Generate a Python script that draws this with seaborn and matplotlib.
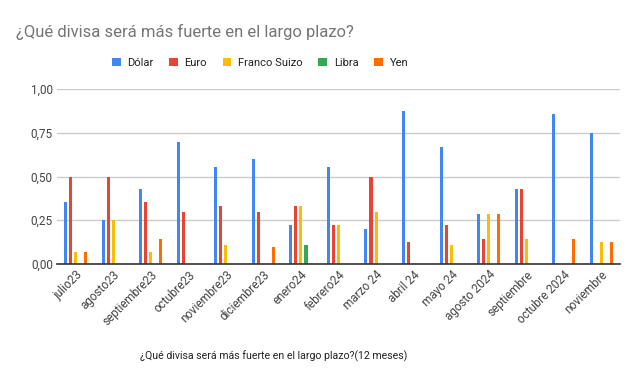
import matplotlib
matplotlib.use("Agg")
import matplotlib.pyplot as plt
import seaborn as sns
import pandas as pd
from matplotlib.ticker import FuncFormatter

meses = ["julio23", "agosto23", "septiembre23", "octubre23", "noviembre23",
         "diciembre23", "enero24", "febrero24", "marzo 24", "abril 24",
         "mayo 24", "agosto 2024", "septiembre", "octubre 2024", "noviembre"]

dolar = [0.357, 0.25, 0.429, 0.70, 0.556, 0.60, 0.222, 0.556, 0.20, 0.875,
         0.667, 0.286, 0.429, 0.857, 0.75]
euro = [0.50, 0.50, 0.357, 0.30, 0.333, 0.30, 0.333, 0.222, 0.50, 0.125,
        0.222, 0.143, 0.429, 0.0, 0.0]
franco = [0.071, 0.25, 0.071, 0.0, 0.111, 0.0, 0.333, 0.222, 0.30, 0.0,
          0.111, 0.286, 0.143, 0.0, 0.125]
libra = [0.0, 0.0, 0.0, 0.0, 0.0, 0.0, 0.111, 0.0, 0.0, 0.0,
         0.0, 0.0, 0.0, 0.0, 0.0]
yen = [0.071, 0.0, 0.143, 0.0, 0.0, 0.10, 0.0, 0.0, 0.0, 0.0,
       0.0, 0.286, 0.0, 0.143, 0.125]

series = {"Dólar": dolar, "Euro": euro, "Franco Suizo": franco,
          "Libra": libra, "Yen": yen}
colores = ["#4285F4", "#EA4335", "#FBBC04", "#34A853", "#FF6D01"]

rows = []
for divisa, vals in series.items():
    for mes, v in zip(meses, vals):
        rows.append({"mes": mes, "divisa": divisa, "valor": v})
df = pd.DataFrame(rows)

sns.set_style("white")
plt.rcParams["font.family"] = ["Roboto", "DejaVu Sans"]

fig = plt.figure(figsize=(6.4, 3.84), dpi=100)
ax = fig.add_axes([57 / 640, 1 - 264 / 384, 563 / 640, 175 / 384])

sns.barplot(data=df, x="mes", y="valor", hue="divisa", order=meses,
            hue_order=list(series.keys()), palette=colores, saturation=1,
            width=0.67, gap=0.4, linewidth=0, ax=ax, legend=True)

ax.set_ylim(0, 1.0)
ax.set_xlim(-0.5, len(meses) - 0.5)
ax.set_yticks([0, 0.25, 0.5, 0.75, 1.0])
ax.yaxis.set_major_formatter(FuncFormatter(lambda v, p: f"{v:.2f}".replace(".", ",")))
ax.grid(axis="y", color="#cccccc", linewidth=1)
ax.set_axisbelow(True)
for s in ["top", "right", "left"]:
    ax.spines[s].set_visible(False)
ax.spines["bottom"].set_color("#333333")
ax.spines["bottom"].set_linewidth(1.2)
ax.tick_params(axis="both", length=0, labelsize=8.5, colors="#444444", pad=3)
plt.setp(ax.get_xticklabels(), rotation=45, ha="right", rotation_mode="anchor")
ax.set_xlabel("")
ax.set_ylabel("")

handles, labels = ax.get_legend_handles_labels()
ax.legend_.remove()
fig.legend(handles, labels, loc="center", bbox_to_anchor=(260 / 640, 1 - 63 / 384),
           ncol=5, frameon=False, fontsize=8, handlelength=0.8, handleheight=0.8,
           columnspacing=1.4, handletextpad=0.6, labelcolor="#222222")

fig.text(16 / 640, 1 - 32 / 384, "¿Qué divisa será más fuerte en el largo plazo?",
         fontsize=12, color="#757575", va="center", ha="left")
fig.text(274 / 640, 1 - 356 / 384, "¿Qué divisa será más fuerte en el largo plazo?(12 meses)",
         fontsize=7.6, color="#222222", va="center", ha="center")

fig.savefig("out.png", dpi=100)
